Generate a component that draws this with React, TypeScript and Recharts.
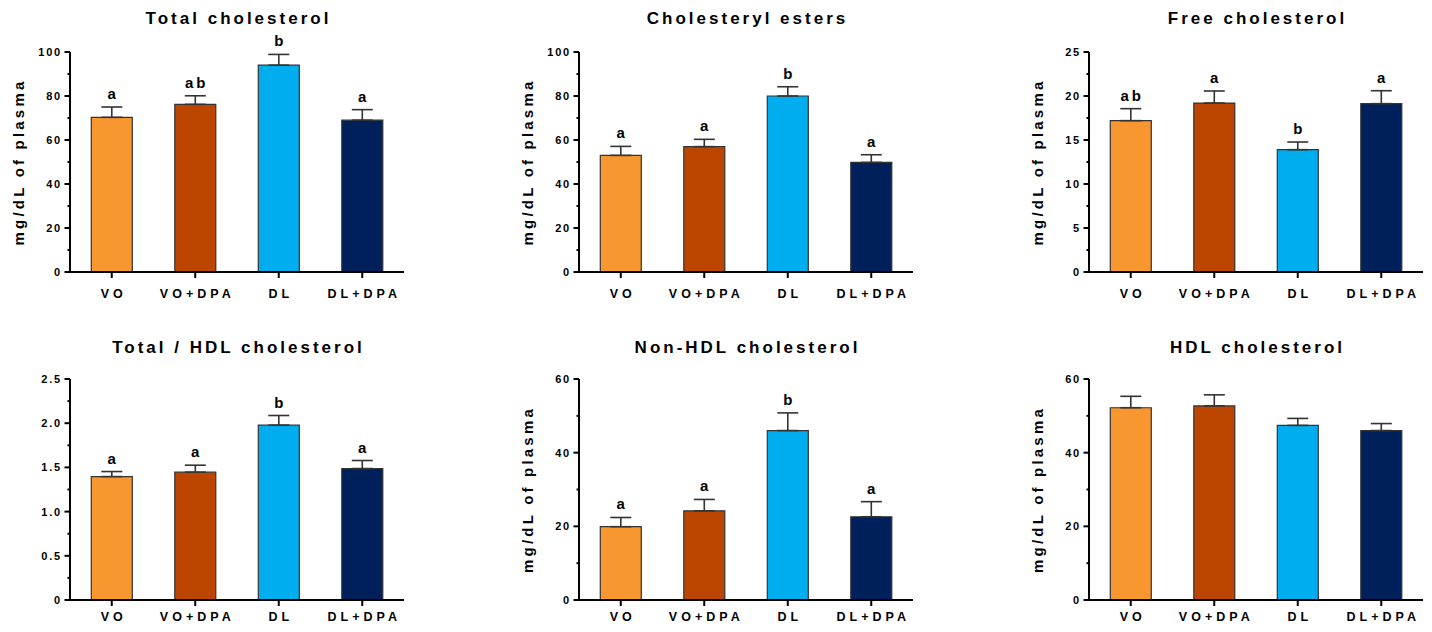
import React from 'react';
import { BarChart, Bar, XAxis, YAxis, ErrorBar, Cell, ReferenceDot } from 'recharts';

const categories = ['VO', 'VO+DPA', 'DL', 'DL+DPA'];
const barColors = ['#F8962F', '#BC4600', '#00AEEF', '#00205B'];

// Total cholesterol
const totalMean = [70.3, 76.2, 94.0, 69.0];
const totalSem = [4.7, 3.9, 4.9, 4.8];
const totalLetters = ['a', 'ab', 'b', 'a'];
const totalTicks = [0, 20, 40, 60, 80, 100];
const totalMinor = [10, 30, 50, 70, 90];
const totalTickLabels = ['0', '20', '40', '60', '80', '100'];

// Cholesteryl esters
const esterMean = [53.0, 57.0, 80.0, 49.8];
const esterSem = [4.1, 3.3, 4.2, 3.5];
const esterLetters = ['a', 'a', 'b', 'a'];
const esterTicks = [0, 20, 40, 60, 80, 100];
const esterMinor = [10, 30, 50, 70, 90];
const esterTickLabels = ['0', '20', '40', '60', '80', '100'];

// Free cholesterol
const freeMean = [17.2, 19.2, 13.9, 19.13];
const freeSem = [1.36, 1.37, 0.87, 1.47];
const freeLetters = ['ab', 'a', 'b', 'a'];
const freeTicks = [0, 5, 10, 15, 20, 25];
const freeMinor = [2.5, 7.5, 12.5, 17.5, 22.5];
const freeTickLabels = ['0', '5', '10', '15', '20', '25'];

// Total / HDL cholesterol
const ratioMean = [1.396, 1.446, 1.978, 1.487];
const ratioSem = [0.057, 0.079, 0.109, 0.091];
const ratioLetters = ['a', 'a', 'b', 'a'];
const ratioTicks = [0, 0.5, 1.0, 1.5, 2.0, 2.5];
const ratioMinor = [0.25, 0.75, 1.25, 1.75, 2.25];
const ratioTickLabels = ['0', '0.5', '1.0', '1.5', '2.0', '2.5'];

// Non-HDL cholesterol
const nonHdlMean = [19.9, 24.2, 46.0, 22.6];
const nonHdlSem = [2.5, 3.1, 4.8, 4.1];
const nonHdlLetters = ['a', 'a', 'b', 'a'];
const nonHdlTicks = [0, 20, 40, 60];
const nonHdlMinor = [10, 30, 50];
const nonHdlTickLabels = ['0', '20', '40', '60'];

// HDL cholesterol
const hdlMean = [52.2, 52.7, 47.4, 46.0];
const hdlSem = [3.1, 3.0, 1.9, 1.9];
const hdlTicks = [0, 20, 40, 60];
const hdlMinor = [10, 30, 50];
const hdlTickLabels = ['0', '20', '40', '60'];

const FONT = '"Liberation Sans", Arial, Helvetica, sans-serif';
const AXIS_X = 70;
const PLOT_W = 334;
const MARGIN_TOP = 52;
const XAXIS_H = 30;

type PanelProps = {
  title: string;
  mean: number[];
  sem: number[];
  letters?: string[];
  ticks: number[];
  minor: number[];
  tickLabels: string[];
  yLabel?: string;
  left: number;
  top: number;
  plotH: number;
  titleBaseline: number;
  xLabelOffset: number;
};

function Panel(p: PanelProps) {
  const data = categories.map((c, i) => ({
    name: c,
    mean: p.mean[i],
    err: [0, p.sem[i]],
  }));
  const allTicks = [...p.ticks, ...p.minor].sort((a, b) => a - b);
  const maxV = p.ticks[p.ticks.length - 1];
  const W = AXIS_X + PLOT_W + 8;
  const H = MARGIN_TOP + p.plotH + XAXIS_H;

  const YTick = (props: any) => {
    const { y, payload } = props;
    const v = payload.value;
    const idx = p.ticks.findIndex((t) => Math.abs(t - v) < 1e-9);
    const major = idx >= 0;
    return (
      <g>
        <line x1={AXIS_X - (major ? 5.5 : 2.5)} x2={AXIS_X} y1={y} y2={y} stroke="#000" strokeWidth={2} />
        {major && (
          <text
            x={AXIS_X - 8}
            y={y}
            dy="0.36em"
            textAnchor="end"
            fontFamily={FONT}
            fontWeight="bold"
            fontSize={11}
            letterSpacing={1.8}
            fill="#000"
          >
            {p.tickLabels[idx]}
          </text>
        )}
      </g>
    );
  };

  const XTick = (props: any) => {
    const { x, y, payload } = props;
    return (
      <text
        x={x + 2}
        y={y + p.xLabelOffset}
        textAnchor="middle"
        fontFamily={FONT}
        fontWeight="bold"
        fontSize={12.5}
        letterSpacing={4}
        fill="#000"
      >
        {payload.value}
      </text>
    );
  };

  const letterContent = (txt: string) => (props: any) => {
    const vb = props.viewBox || {};
    const cx = (vb.x ?? 0) + (vb.width ?? 0) / 2;
    const cy = (vb.y ?? 0) + (vb.height ?? 0) / 2;
    return (
      <text
        x={cx + 1.5}
        y={cy - 8}
        textAnchor="middle"
        fontFamily={FONT}
        fontWeight="bold"
        fontSize={15}
        letterSpacing={3}
        fill="#000"
      >
        {txt}
      </text>
    );
  };

  return (
    <div style={{ position: 'absolute', left: p.left, top: p.top, width: W, height: H }}>
      <BarChart
        width={W}
        height={H}
        data={data}
        margin={{ top: MARGIN_TOP, right: 8, bottom: 0, left: 0 }}
        barCategoryGap="25.5%"
      >
        <XAxis
          dataKey="name"
          interval={0}
          height={XAXIS_H}
          tickSize={6}
          tickMargin={2}
          tickLine={{ stroke: '#000', strokeWidth: 2 }}
          axisLine={{ stroke: '#000', strokeWidth: 2 }}
          tick={<XTick />}
        />
        <YAxis
          type="number"
          domain={[0, maxV]}
          ticks={allTicks}
          interval={0}
          width={AXIS_X}
          tickLine={false}
          axisLine={{ stroke: '#000', strokeWidth: 2 }}
          tick={<YTick />}
        />
        <Bar dataKey="mean" stroke="#333" strokeWidth={1.2} isAnimationActive={false}>
          {data.map((d, i) => (
            <Cell key={d.name} fill={barColors[i]} />
          ))}
          <ErrorBar dataKey="err" direction="y" width={10.5} stroke="#333" strokeWidth={1.6} isAnimationActive={false} />
        </Bar>
        {p.letters &&
          p.letters.map((l, i) => (
            <ReferenceDot
              key={`l${i}`}
              x={categories[i]}
              y={p.mean[i] + p.sem[i]}
              r={1}
              fill="none"
              stroke="none"
              ifOverflow="visible"
              label={{ content: letterContent(l) }}
            />
          ))}
      </BarChart>
      <svg
        width={W}
        height={H}
        style={{ position: 'absolute', left: 0, top: 0, pointerEvents: 'none' }}
      >
        <text
          x={AXIS_X + PLOT_W / 2 + 1.5}
          y={p.titleBaseline}
          textAnchor="middle"
          fontFamily={FONT}
          fontWeight="bold"
          fontSize={17}
          letterSpacing={3}
          fill="#000"
        >
          {p.title}
        </text>
        {p.yLabel && (
          <text
            x={0}
            y={0}
            transform={`translate(18, ${MARGIN_TOP + p.plotH / 2}) rotate(-90)`}
            textAnchor="middle"
            dominantBaseline="central"
            fontFamily={FONT}
            fontWeight="bold"
            fontSize={15}
            letterSpacing={3.2}
            fill="#000"
          >
            {p.yLabel}
          </text>
        )}
      </svg>
    </div>
  );
}

const Y_LABEL = 'mg/dL of plasma';

export default function App() {
  const cols = [0, 509, 1019];
  const topRow = { top: 0, plotH: 220, titleBaseline: 24, xLabelOffset: 17.7 };
  const botRow = { top: 327, plotH: 221, titleBaseline: 26, xLabelOffset: 13 };
  return (
    <div style={{ position: 'absolute', left: 0, top: 0, width: 1432, height: 632, background: '#fff', overflow: 'hidden' }}>
      <Panel title="Total cholesterol" mean={totalMean} sem={totalSem} letters={totalLetters} ticks={totalTicks} minor={totalMinor} tickLabels={totalTickLabels} yLabel={Y_LABEL} left={cols[0]} {...topRow} />
      <Panel title="Cholesteryl esters" mean={esterMean} sem={esterSem} letters={esterLetters} ticks={esterTicks} minor={esterMinor} tickLabels={esterTickLabels} yLabel={Y_LABEL} left={cols[1]} {...topRow} />
      <Panel title="Free cholesterol" mean={freeMean} sem={freeSem} letters={freeLetters} ticks={freeTicks} minor={freeMinor} tickLabels={freeTickLabels} yLabel={Y_LABEL} left={cols[2]} {...topRow} />
      <Panel title="Total / HDL cholesterol" mean={ratioMean} sem={ratioSem} letters={ratioLetters} ticks={ratioTicks} minor={ratioMinor} tickLabels={ratioTickLabels} left={cols[0]} {...botRow} />
      <Panel title="Non-HDL cholesterol" mean={nonHdlMean} sem={nonHdlSem} letters={nonHdlLetters} ticks={nonHdlTicks} minor={nonHdlMinor} tickLabels={nonHdlTickLabels} yLabel={Y_LABEL} left={cols[1]} {...botRow} />
      <Panel title="HDL cholesterol" mean={hdlMean} sem={hdlSem} ticks={hdlTicks} minor={hdlMinor} tickLabels={hdlTickLabels} yLabel={Y_LABEL} left={cols[2]} {...botRow} />
    </div>
  );
}
